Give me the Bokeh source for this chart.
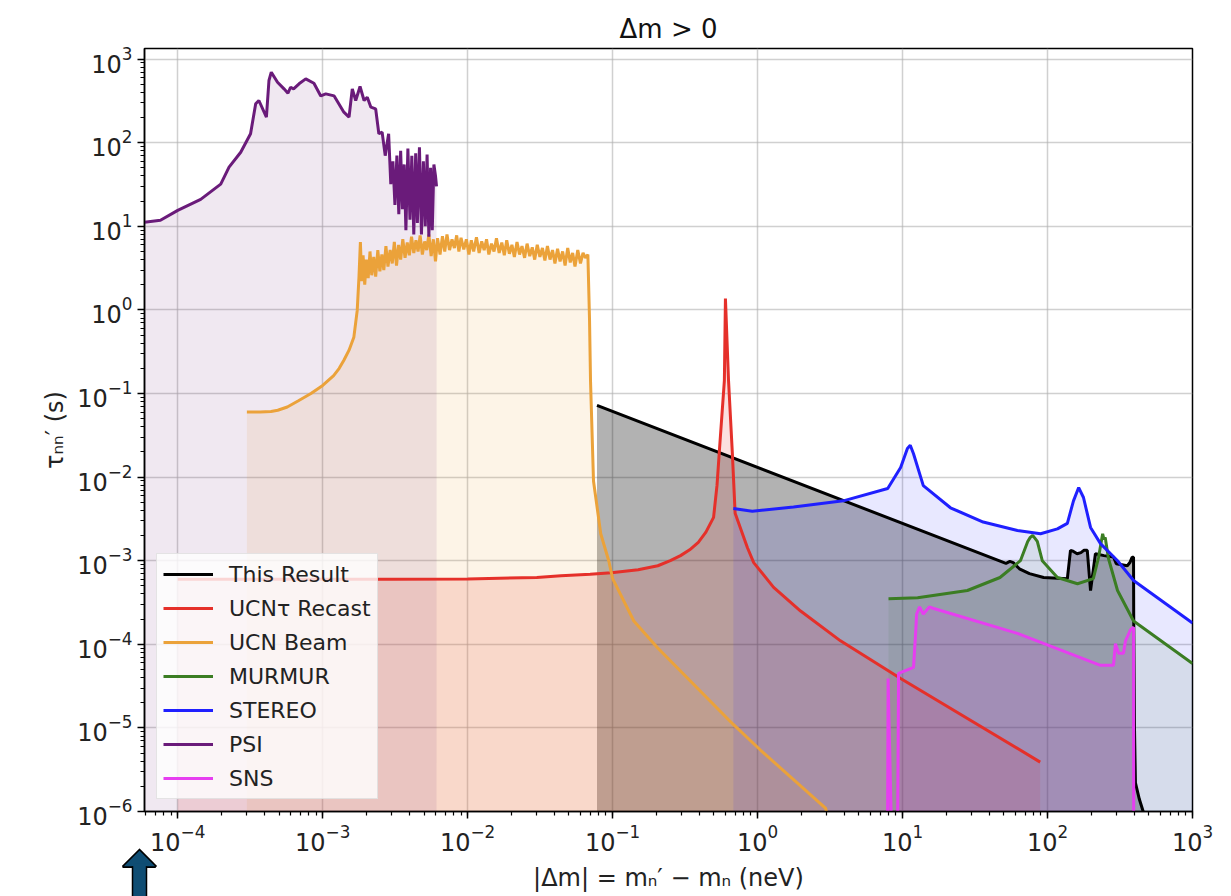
from bokeh.plotting import figure
from bokeh.models import Range1d, Arrow, NormalHead
from bokeh.embed import file_html
from bokeh.resources import INLINE

# ---------------- data ----------------
# This Result (black)
res_x = [0.078, 51.7, 55, 58, 64, 75, 94, 137, 144, 150, 160, 170, 178, 188, 198, 214,
         245, 285, 298, 355, 370, 383, 392, 393, 398, 404, 430, 457, 480]
res_y = [0.072, 9.3e-4, 9.8e-4, 9.5e-4, 8.0e-4, 7.0e-4, 6.3e-4, 6.1e-4, 1.33e-3, 1.3e-3,
         1.21e-3, 1.25e-3, 1.33e-3, 1.33e-3, 4.4e-4, 1.21e-3, 1.15e-3, 1.11e-3, 9.2e-4,
         8.7e-4, 9.5e-4, 1.1e-3, 1.1e-3, 2.3e-4, 1.0e-5, 2.2e-6, 1.4e-6, 1.0e-6, 8e-7]

# UCN tau recast (red)
red_x = [1.0e-4, 3e-4, 1e-3, 3e-3, 1e-2, 0.03, 0.044, 0.07, 0.098, 0.15, 0.205, 0.25,
         0.294, 0.34, 0.39, 0.44, 0.497, 0.525, 0.547, 0.59, 0.60, 0.63, 0.67, 0.70,
         0.85, 0.94, 1.29, 1.98, 3.73, 9.7, 89]
red_y = [6.0e-4, 6.0e-4, 6.0e-4, 6.0e-4, 6.05e-4, 6.3e-4, 6.6e-4, 6.9e-4, 7.2e-4, 7.8e-4,
         8.7e-4, 1.0e-3, 1.15e-3, 1.35e-3, 1.66e-3, 2.2e-3, 3.3e-3, 8e-3, 0.0226, 0.143,
         1.37, 0.145, 0.019, 3.7e-3, 1.44e-3, 9.5e-4, 4.8e-4, 2.5e-4, 1.1e-4, 3.9e-5, 3.9e-6]

# UCN Beam (orange)
beam_x = [3.0e-4, 3.7e-4, 4.4e-4, 4.9e-4, 5.7e-4, 6.8e-4, 8.3e-4, 1.0e-3, 1.19e-3, 1.3e-3,
          1.4e-3, 1.52e-3, 1.64e-3, 1.73e-3, 1.78e-3, 1.82e-3,
          1.86e-3, 1.9e-3, 1.95e-3, 2.0e-3, 2.06e-3, 2.12e-3, 2.18e-3, 2.25e-3, 2.32e-3,
          2.4e-3, 2.48e-3, 2.56e-3, 2.64e-3, 2.73e-3, 2.82e-3, 2.92e-3, 3.02e-3, 3.12e-3,
          3.23e-3, 3.34e-3, 3.45e-3, 3.57e-3, 3.7e-3, 3.83e-3, 3.96e-3, 4.1e-3, 4.25e-3,
          4.4e-3, 4.55e-3, 4.7e-3, 4.87e-3, 5.05e-3, 5.22e-3, 5.4e-3, 5.6e-3, 5.8e-3,
          6.0e-3, 6.2e-3, 6.45e-3, 6.7e-3, 6.95e-3, 7.2e-3, 7.5e-3, 7.8e-3, 8.1e-3,
          8.4e-3, 8.7e-3, 9.0e-3, 9.4e-3, 9.8e-3, 1.02e-2, 1.06e-2, 1.1e-2, 1.15e-2,
          1.2e-2, 1.25e-2, 1.3e-2, 1.35e-2, 1.4e-2, 1.46e-2, 1.52e-2, 1.58e-2, 1.65e-2,
          1.72e-2, 1.79e-2, 1.86e-2, 1.94e-2, 2.02e-2, 2.1e-2, 2.19e-2, 2.28e-2, 2.37e-2,
          2.47e-2, 2.57e-2, 2.68e-2, 2.79e-2, 2.9e-2, 3.02e-2, 3.15e-2, 3.28e-2, 3.41e-2,
          3.55e-2, 3.7e-2, 3.85e-2, 4.0e-2, 4.17e-2, 4.34e-2, 4.52e-2, 4.7e-2, 4.9e-2,
          5.1e-2, 5.3e-2, 5.5e-2, 5.75e-2, 6.0e-2, 6.25e-2, 6.5e-2, 6.75e-2,
          6.93e-2, 7.04e-2, 7.38e-2, 8.28e-2, 9.4e-2, 0.1, 0.14, 0.204, 0.68, 1.05, 2.94, 3.1]
beam_y = [0.060, 0.060, 0.061, 0.063, 0.069, 0.082, 0.10, 0.125, 0.164, 0.2,
          0.25, 0.33, 0.47, 0.98, 2.5, 6.5,
          2.2, 4.5, 2.0, 4.0, 2.4, 5.0, 2.6, 4.3, 2.5,
          5.2, 2.9, 4.6, 3.0, 5.8, 3.3, 5.2, 3.6, 6.5,
          3.4, 6.0, 4.0, 7.0, 4.2, 6.4, 4.5, 7.5, 4.8,
          6.8, 5.0, 7.8, 4.6, 6.6, 5.2, 8.0, 4.4, 7.0,
          3.8, 7.2, 4.6, 7.6, 5.0, 8.0, 5.2, 7.0, 5.5,
          7.8, 5.0, 7.3, 5.3, 7.0, 4.6, 6.8, 5.0, 7.4,
          4.8, 6.6, 5.2, 7.0, 4.6, 6.2, 5.0, 7.2, 4.8,
          6.4, 4.5, 6.8, 4.7, 6.0, 4.3, 6.5, 4.6, 5.8,
          4.2, 6.2, 4.4, 5.6, 4.0, 6.0, 4.3, 5.5, 3.9,
          5.8, 4.0, 5.2, 3.6, 5.4, 3.8, 5.0, 3.4, 5.5,
          3.7, 4.8, 3.3, 5.2, 3.6, 4.8, 4.2, 4.6,
          0.75, 0.14, 9e-3, 2.1e-3, 1e-3, 6.1e-4, 1.9e-4, 9.1e-5, 1.1e-5, 5.4e-6, 1.1e-6, 8e-7]

# MURMUR (green)
mur_x = [8.0, 12.7, 28, 47, 65, 73, 76, 79, 82, 85, 92, 117, 161, 207, 225, 240, 245, 250,
         263, 304, 392, 1000]
mur_y = [3.5e-4, 3.6e-4, 4.4e-4, 6.3e-4, 1.0e-3, 1.7e-3, 1.9e-3, 2.0e-3, 1.85e-3, 1.7e-3,
         1.0e-3, 6.3e-4, 5.3e-4, 6.1e-4, 1.1e-3, 2.1e-3, 1.8e-3, 1.9e-3, 1.07e-3, 4.4e-4,
         1.9e-4, 5.9e-5]

# STEREO (blue)
ste_x = [0.68, 0.92, 1.77, 3.9, 7.9, 9.7, 10.8, 11.3, 11.9, 13.9, 21.4, 36, 62, 89.5, 117,
         137, 151, 164, 177, 198, 232, 304, 392, 1000]
ste_y = [4.2e-3, 3.9e-3, 4.4e-3, 5.2e-3, 7.3e-3, 0.013, 0.022, 0.024, 0.019, 7.9e-3, 4.3e-3,
         2.9e-3, 2.3e-3, 2.1e-3, 2.4e-3, 2.8e-3, 5.2e-3, 7.5e-3, 5.7e-3, 2.5e-3, 1.6e-3,
         1.0e-3, 5.8e-4, 1.8e-4]

# PSI (purple)
psi_x = [5.9e-5, 7.6e-5, 1.0e-4, 1.44e-4, 1.98e-4, 2.26e-4, 2.72e-4, 3.18e-4, 3.45e-4,
         3.63e-4, 4.09e-4, 4.26e-4, 4.42e-4, 4.88e-4, 5.41e-4, 5.76e-4, 6.0e-4, 6.3e-4,
         6.87e-4, 7.64e-4, 8.7e-4, 9.7e-4, 1.05e-3, 1.2e-3, 1.4e-3, 1.52e-3, 1.6e-3,
         1.69e-3, 1.81e-3, 1.93e-3, 2.03e-3, 2.15e-3, 2.32e-3, 2.44e-3, 2.57e-3, 2.7e-3,
         2.85e-3, 2.95e-3, 3.05e-3, 3.15e-3, 3.25e-3, 3.35e-3, 3.45e-3, 3.55e-3, 3.65e-3,
         3.75e-3, 3.87e-3, 4.0e-3, 4.12e-3, 4.25e-3, 4.38e-3, 4.5e-3, 4.65e-3, 4.8e-3,
         4.95e-3, 5.1e-3, 5.25e-3, 5.4e-3, 5.55e-3, 5.7e-3, 5.85e-3, 6.0e-3, 6.1e-3]
psi_y = [11.2, 11.8, 15.5, 21, 32, 51, 77, 128, 292,
         320, 202, 555, 698, 530, 441, 391, 461, 441,
         507, 580, 515, 363, 384, 363, 232, 202, 441,
         320, 470, 320, 350, 266, 254, 128, 134, 70,
         128, 32, 60, 18, 70, 14, 80, 16, 55,
         9, 85, 12, 70, 8, 75, 11, 88, 8,
         60, 10, 72, 7.5, 50, 9, 55, 40, 30]

# SNS (magenta)
sns_x = [7.88, 7.95, 8.4, 9.24, 9.38, 11.9, 12.3, 12.5, 13.1, 13.9, 15.3, 16.2, 62, 232,
         285, 294, 309, 334, 345, 374, 392, 393]
sns_y = [5e-7, 3.9e-5, 5e-7, 5e-7, 4.5e-5, 5.3e-5, 1.35e-4, 2.3e-4, 2.8e-4, 2.3e-4, 2.8e-4,
         2.7e-4, 1.35e-4, 5.6e-5, 5.6e-5, 1.02e-4, 7.8e-5, 7.8e-5, 1.1e-4, 1.5e-4, 1.6e-4, 5e-7]

series = [
    ("This Result", res_x, res_y, "#000000", 0.30),
    ("UCNτ Recast", red_x, red_y, "#e5302a", 0.15),
    ("UCN Beam", beam_x, beam_y, "#eba23a", 0.12),
    ("MURMUR", mur_x, mur_y, "#3b7d23", 0.10),
    ("STEREO", ste_x, ste_y, "#1f1fff", 0.10),
    ("PSI", psi_x, psi_y, "#6a1b7a", 0.10),
    ("SNS", sns_x, sns_y, "#e63ef0", 0.15),
]

# ---------------- figure ----------------
X_LO, X_HI = 5.9e-5, 1e3
Y_LO, Y_HI = 1e-6, 1340
p = figure(width=1231, height=896, x_axis_type="log", y_axis_type="log",
           x_range=Range1d(X_LO, X_HI), y_range=Range1d(Y_LO, Y_HI),
           output_backend="svg", toolbar_location=None, title="Δm > 0",
           min_border_left=144, min_border_right=39, min_border_top=48,
           min_border_bottom=85)

p.title.align = "center"
p.title.text_font = "DejaVu Sans"
p.title.text_font_size = "26px"
p.title.text_font_style = "normal"
p.title.text_color = "#111111"

for name, xs, ys, col, alpha in series:
    p.varea(x=xs, y1=1e-7, y2=ys, fill_color=col, fill_alpha=alpha)

for name, xs, ys, col, alpha in series:
    p.line(xs, ys, line_color=col, line_width=3, legend_label=name)

# axes styling
for ax in (p.xaxis, p.yaxis):
    ax.major_label_text_font = "DejaVu Sans"
    ax.major_label_text_font_size = "24px"
    ax.major_label_text_color = "#222222"
    ax.axis_label_text_font = "DejaVu Sans"
    ax.axis_label_text_font_size = "24px"
    ax.axis_label_text_font_style = "normal"
    ax.axis_label_text_color = "#222222"
    ax.axis_line_color = "black"
    ax.axis_line_width = 1.5
    ax.major_tick_line_color = "black"
    ax.minor_tick_line_color = "black"
    ax.major_tick_in = 0
    ax.major_tick_out = 7
    ax.minor_tick_in = 0
    ax.minor_tick_out = 4
    ax.major_tick_line_width = 1.5
    ax.minor_tick_line_width = 1.2

p.xaxis.axis_label = "|Δm| = mₙ′ − mₙ (neV)"
p.yaxis.axis_label = "τₙₙ′ (s)"
p.xaxis.axis_label_standoff = 10

p.outline_line_color = "black"
p.outline_line_width = 1.5
p.outline_line_alpha = 1.0

p.grid.grid_line_color = "#b0b0b0"
p.grid.grid_line_alpha = 0.6
p.grid.grid_line_width = 1.5

leg = p.legend[0]
leg.location = "bottom_left"
leg.margin = 12
leg.padding = 6
leg.spacing = 6
leg.glyph_width = 50
leg.glyph_height = 28
leg.label_height = 28
leg.label_standoff = 16
leg.label_text_font = "DejaVu Sans"
leg.label_text_font_size = "22px"
leg.label_text_color = "#222222"
leg.border_line_color = "#cccccc"
leg.border_line_width = 1.2
leg.background_fill_color = "white"
leg.background_fill_alpha = 0.8

# ---------------- block arrow below the x axis (annotation in the picture) ----------------
# Outside the plot frame, a Bokeh Arrow body is painted only inside its head's clip
# square (NormalHead: size x size behind the tip).  The up-arrow is assembled from such
# squares: a 45-degree square gives the triangular head, upright squares give the shaft.
FRAME_L, FRAME_B = 144, 811
PX_PER_DEC_X = 1048 / 7.229
PX_PER_DEC_Y = 763 / 9.127


def canvas_to_data(cx, cy):
    import math
    lx = math.log10(X_LO) + (cx - FRAME_L) / PX_PER_DEC_X
    ly = math.log10(Y_LO) - (cy - FRAME_B) / PX_PER_DEC_Y
    return 10 ** lx, 10 ** ly


def square_piece(cx, cy, size, direction, colour, body_width=None):
    """Square (size x size, or body_width wide) centred at canvas (cx, cy), oriented along direction."""
    import math
    dx, dy = direction
    n = math.hypot(dx, dy)
    dx, dy = dx / n, dy / n
    ex, ey = cx + dx * size / 2, cy + dy * size / 2      # tip (end point)
    sx, sy = ex - dx * 600, ey - dy * 600                # start far behind
    x0, y0 = canvas_to_data(sx, sy)
    x1, y1 = canvas_to_data(ex, ey)
    w = body_width if body_width is not None else size * 3
    p.add_layout(Arrow(end=NormalHead(size=size, line_alpha=0, fill_alpha=0),
                       x_start=x0, y_start=y0, x_end=x1, y_end=y1,
                       line_color=colour, line_width=w, line_cap="butt"))


ARROW_COL = "#0f4d73"
AX = 139
UP, DIAG, RIGHT = (0, -1), (1, -1), (1, 0)
square_piece(AX, 865.5, 25.0, DIAG, "black")                 # head outline
square_piece(AX, 866.0, 22.5, DIAG, ARROW_COL)               # head
square_piece(AX, 867.5 + 22.5, 45, UP, "white")              # trim lower half of head
square_piece(AX - 0.5, 866.6, 33, RIGHT, "black", 1.8)       # head base outline
square_piece(AX, 866 + 20, 40, UP, "black", 15.5)            # shaft outline
square_piece(AX, 863 + 22.5, 45, UP, ARROW_COL, 12.5)        # shaft

open("out.html", "w").write(file_html(p, INLINE))
